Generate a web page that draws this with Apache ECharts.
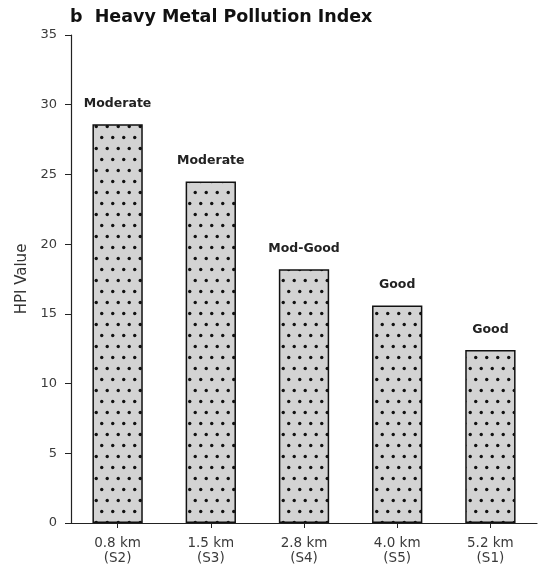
<!DOCTYPE html>
<html>
<head>
<meta charset="utf-8">
<script src="https://cdn.jsdelivr.net/npm/echarts@6/dist/echarts.min.js"></script>
<style>
  html, body { margin: 0; padding: 0; background: #fff; }
  #chart { width: 540px; height: 569px; }
</style>
</head>
<body>
<div id="chart"></div>
<script>
// Sampling sites ordered by distance from the source
const categories = ['0.8 km\n(S2)', '1.5 km\n(S3)', '2.8 km\n(S4)', '4.0 km\n(S5)', '5.2 km\n(S1)'];
const hpiValues = [28.6, 24.5, 18.2, 15.6, 12.4];
const classLabels = ['Moderate', 'Moderate', 'Mod-Good', 'Good', 'Good'];
const yTicks = [0, 5, 10, 15, 20, 25, 30, 35];

// Light grey fill with a staggered dot hatch
function dotPattern() {
  const c = document.createElement('canvas');
  c.width = 11; c.height = 22;
  const g = c.getContext('2d');
  g.fillStyle = '#d3d3d3';
  g.fillRect(0, 0, 11, 22);
  g.fillStyle = '#111';
  [[2.75, 5.5], [8.25, 16.5]].forEach(([x, y]) => {
    g.beginPath(); g.arc(x, y, 1.7, 0, Math.PI * 2); g.fill();
  });
  return c;
}

const font = 'DejaVu Sans';
const chart = echarts.init(document.getElementById('chart'), null, { renderer: 'canvas' });
chart.setOption({
  animation: false,
  backgroundColor: '#fff',
  title: {
    text: 'b  Heavy Metal Pollution Index',
    left: 65, top: 3,
    textStyle: { fontFamily: font, fontSize: 17.5, fontWeight: 'bold', color: '#111' }
  },
  grid: { left: 71, top: 35, width: 466, height: 488, containLabel: false },
  xAxis: {
    type: 'category',
    data: categories,
    axisLine: { lineStyle: { color: '#222', width: 1.2 } },
    axisTick: { show: true, alignWithLabel: true, length: 5, lineStyle: { color: '#222' } },
    axisLabel: { fontFamily: font, fontSize: 13.5, color: '#3a3a3a', margin: 13, lineHeight: 15 }
  },
  yAxis: {
    type: 'value',
    min: yTicks[0], max: yTicks[yTicks.length - 1], interval: 5,
    name: 'HPI Value',
    nameLocation: 'middle',
    nameGap: 38,
    nameTextStyle: { fontFamily: font, fontSize: 15, color: '#333' },
    splitLine: { show: false },
    axisLine: { show: true, lineStyle: { color: '#222', width: 1.2 } },
    axisTick: { show: true, length: 6, lineStyle: { color: '#222' } },
    axisLabel: { fontFamily: font, fontSize: 13, color: '#3a3a3a', margin: 14 }
  },
  series: [{
    type: 'bar',
    barWidth: '54%',
    data: hpiValues.map((v, i) => ({
      value: v,
      label: { formatter: classLabels[i] }
    })),
    itemStyle: {
      color: { image: dotPattern(), repeat: 'repeat' },
      borderColor: '#111',
      borderWidth: 1.5
    },
    label: {
      show: true,
      position: 'top',
      distance: 14,
      fontFamily: font, fontSize: 12.5, fontWeight: 'bold', color: '#222'
    }
  }]
});
</script>
</body>
</html>
